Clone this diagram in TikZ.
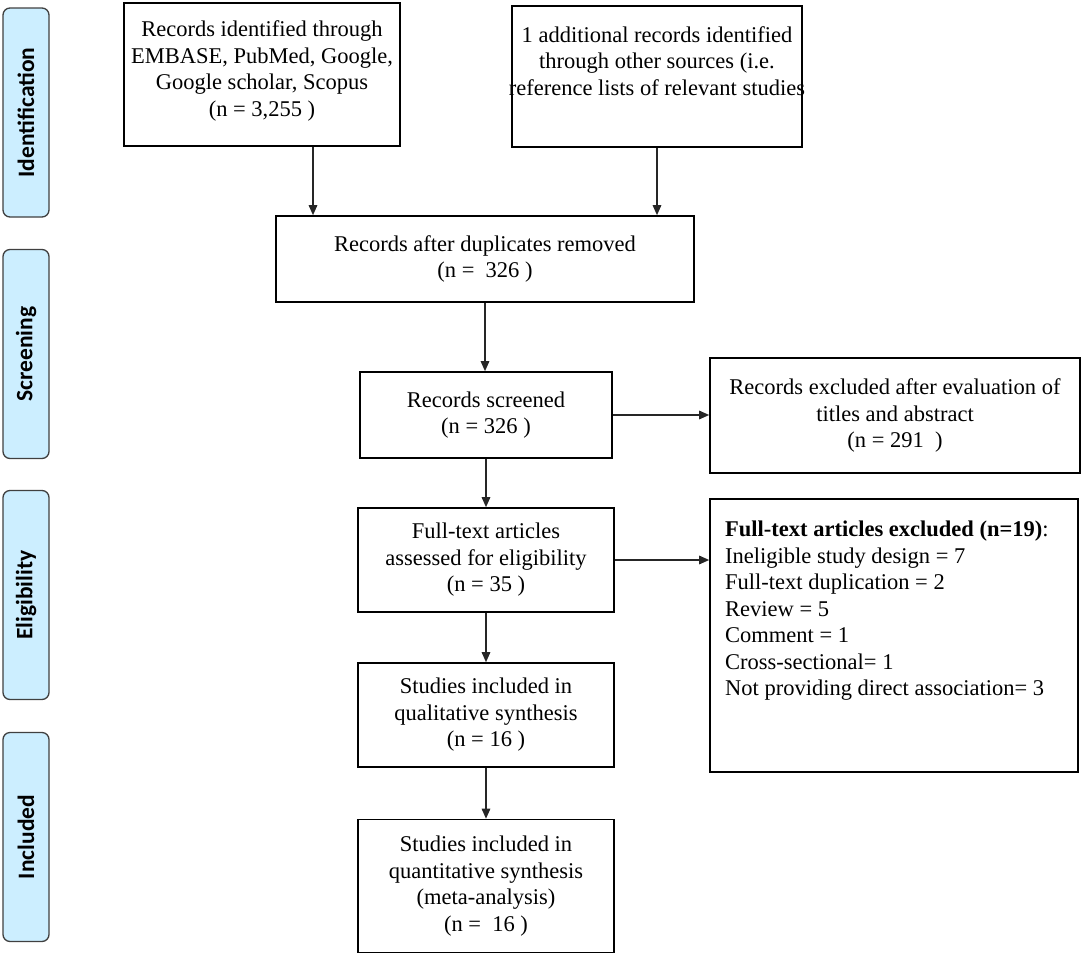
\documentclass[tikz,border=0pt]{standalone}
\usepackage{fontspec}
\setmainfont{Liberation Serif}
\newfontfamily\phasefont{Carlito}
\usetikzlibrary{arrows.meta}
\definecolor{phaseblue}{HTML}{CCEEFF}
\definecolor{phaseline}{HTML}{404040}
\begin{document}
\begin{tikzpicture}[x=1pt,y=-1pt,
  box/.style={draw=black, line width=1.6pt, rectangle, inner sep=0pt, align=center,
    font=\fontsize{22.5}{26.5}\selectfont},
  txt/.style={inner sep=0pt, align=center, font=\fontsize{22.5}{26.5}\selectfont},
  phase/.style={draw=phaseline, fill=phaseblue, rounded corners=7pt, line width=1.3pt,
    rotate=90, minimum width=209pt, minimum height=46pt, inner sep=0pt,
    font=\phasefont\bfseries\fontsize{23.5}{26}\selectfont},
  arr/.style={draw=black!85, line width=1.4pt, -{Triangle[length=10pt,width=8.5pt]}}
]
\useasboundingbox (0,0) rectangle (1084,961);

% phase labels
\node[phase] (pid) at (26,112.5) {Identification};
\node[phase] (psc) at (26,354) {Screening};
\node[phase] (pel) at (26,595) {Eligibility};
\node[phase] (pin) at (26,837) {Included};

% boxes
\node[box, minimum width=276pt, minimum height=143pt] (b1) at (262,74.5) {};
\node[txt] (t1) at (262,71) {Records identified through\\EMBASE, PubMed, Google,\\Google scholar, Scopus\\(n = 3,255 )};
\node[box, minimum width=290pt, minimum height=141pt] (b2) at (657,76.5) {};
\node[txt] (t2) at (657,61) {1 additional records identified\\through other sources (i.e.\\reference lists of relevant studies};

\node[box, minimum width=418pt, minimum height=86pt] (b3) at (485,259) {Records after duplicates removed\\(n = ~326 )};
\node[box, minimum width=252pt, minimum height=86pt] (b4) at (486,415) {Records screened\\(n = 326 )};
\node[box, minimum width=370pt, minimum height=115pt] (b5) at (895,415.5) {Records excluded after evaluation of\\titles and abstract\\(n = 291 ~)};
\node[box, minimum width=256pt, minimum height=104pt] (b6) at (486,560) {Full-text articles\\assessed for eligibility\\(n = 35 )};
\node[box, minimum width=368pt, minimum height=273pt] (b7) at (894,635.5) {};
\node[txt, anchor=north west, align=left] (t7) at (725,521) {\textbf{Full-text articles excluded (n=19)}:\\Ineligible study design = 7\\Full-text duplication = 2\\Review = 5\\Comment = 1\\Cross-sectional= 1\\Not providing direct association= 3};
\node[box, minimum width=256pt, minimum height=104pt] (b8) at (486,715) {Studies included in\\qualitative synthesis\\(n = 16 )};
\node[box, minimum width=256pt, minimum height=133pt] (b9) at (486,886) {Studies included in\\quantitative synthesis\\(meta-analysis)\\(n = ~16 )};

% connectors
\draw[arr] ([xshift=51pt]b1.south) -- ([xshift=51pt]b1.south |- b3.north);
\draw[arr] (b2.south) -- (b2.south |- b3.north);
\draw[arr] (b3.south) -- (b3.south |- b4.north);
\draw[arr] (b4.east) -- (b4.east -| b5.west);
\draw[arr] (b4.south) -- (b6.north);
\draw[arr] (b6.east) -- (b6.east -| b7.west);
\draw[arr] (b6.south) -- (b8.north);
\draw[arr] (b8.south) -- (b9.north);
\end{tikzpicture}
\end{document}
